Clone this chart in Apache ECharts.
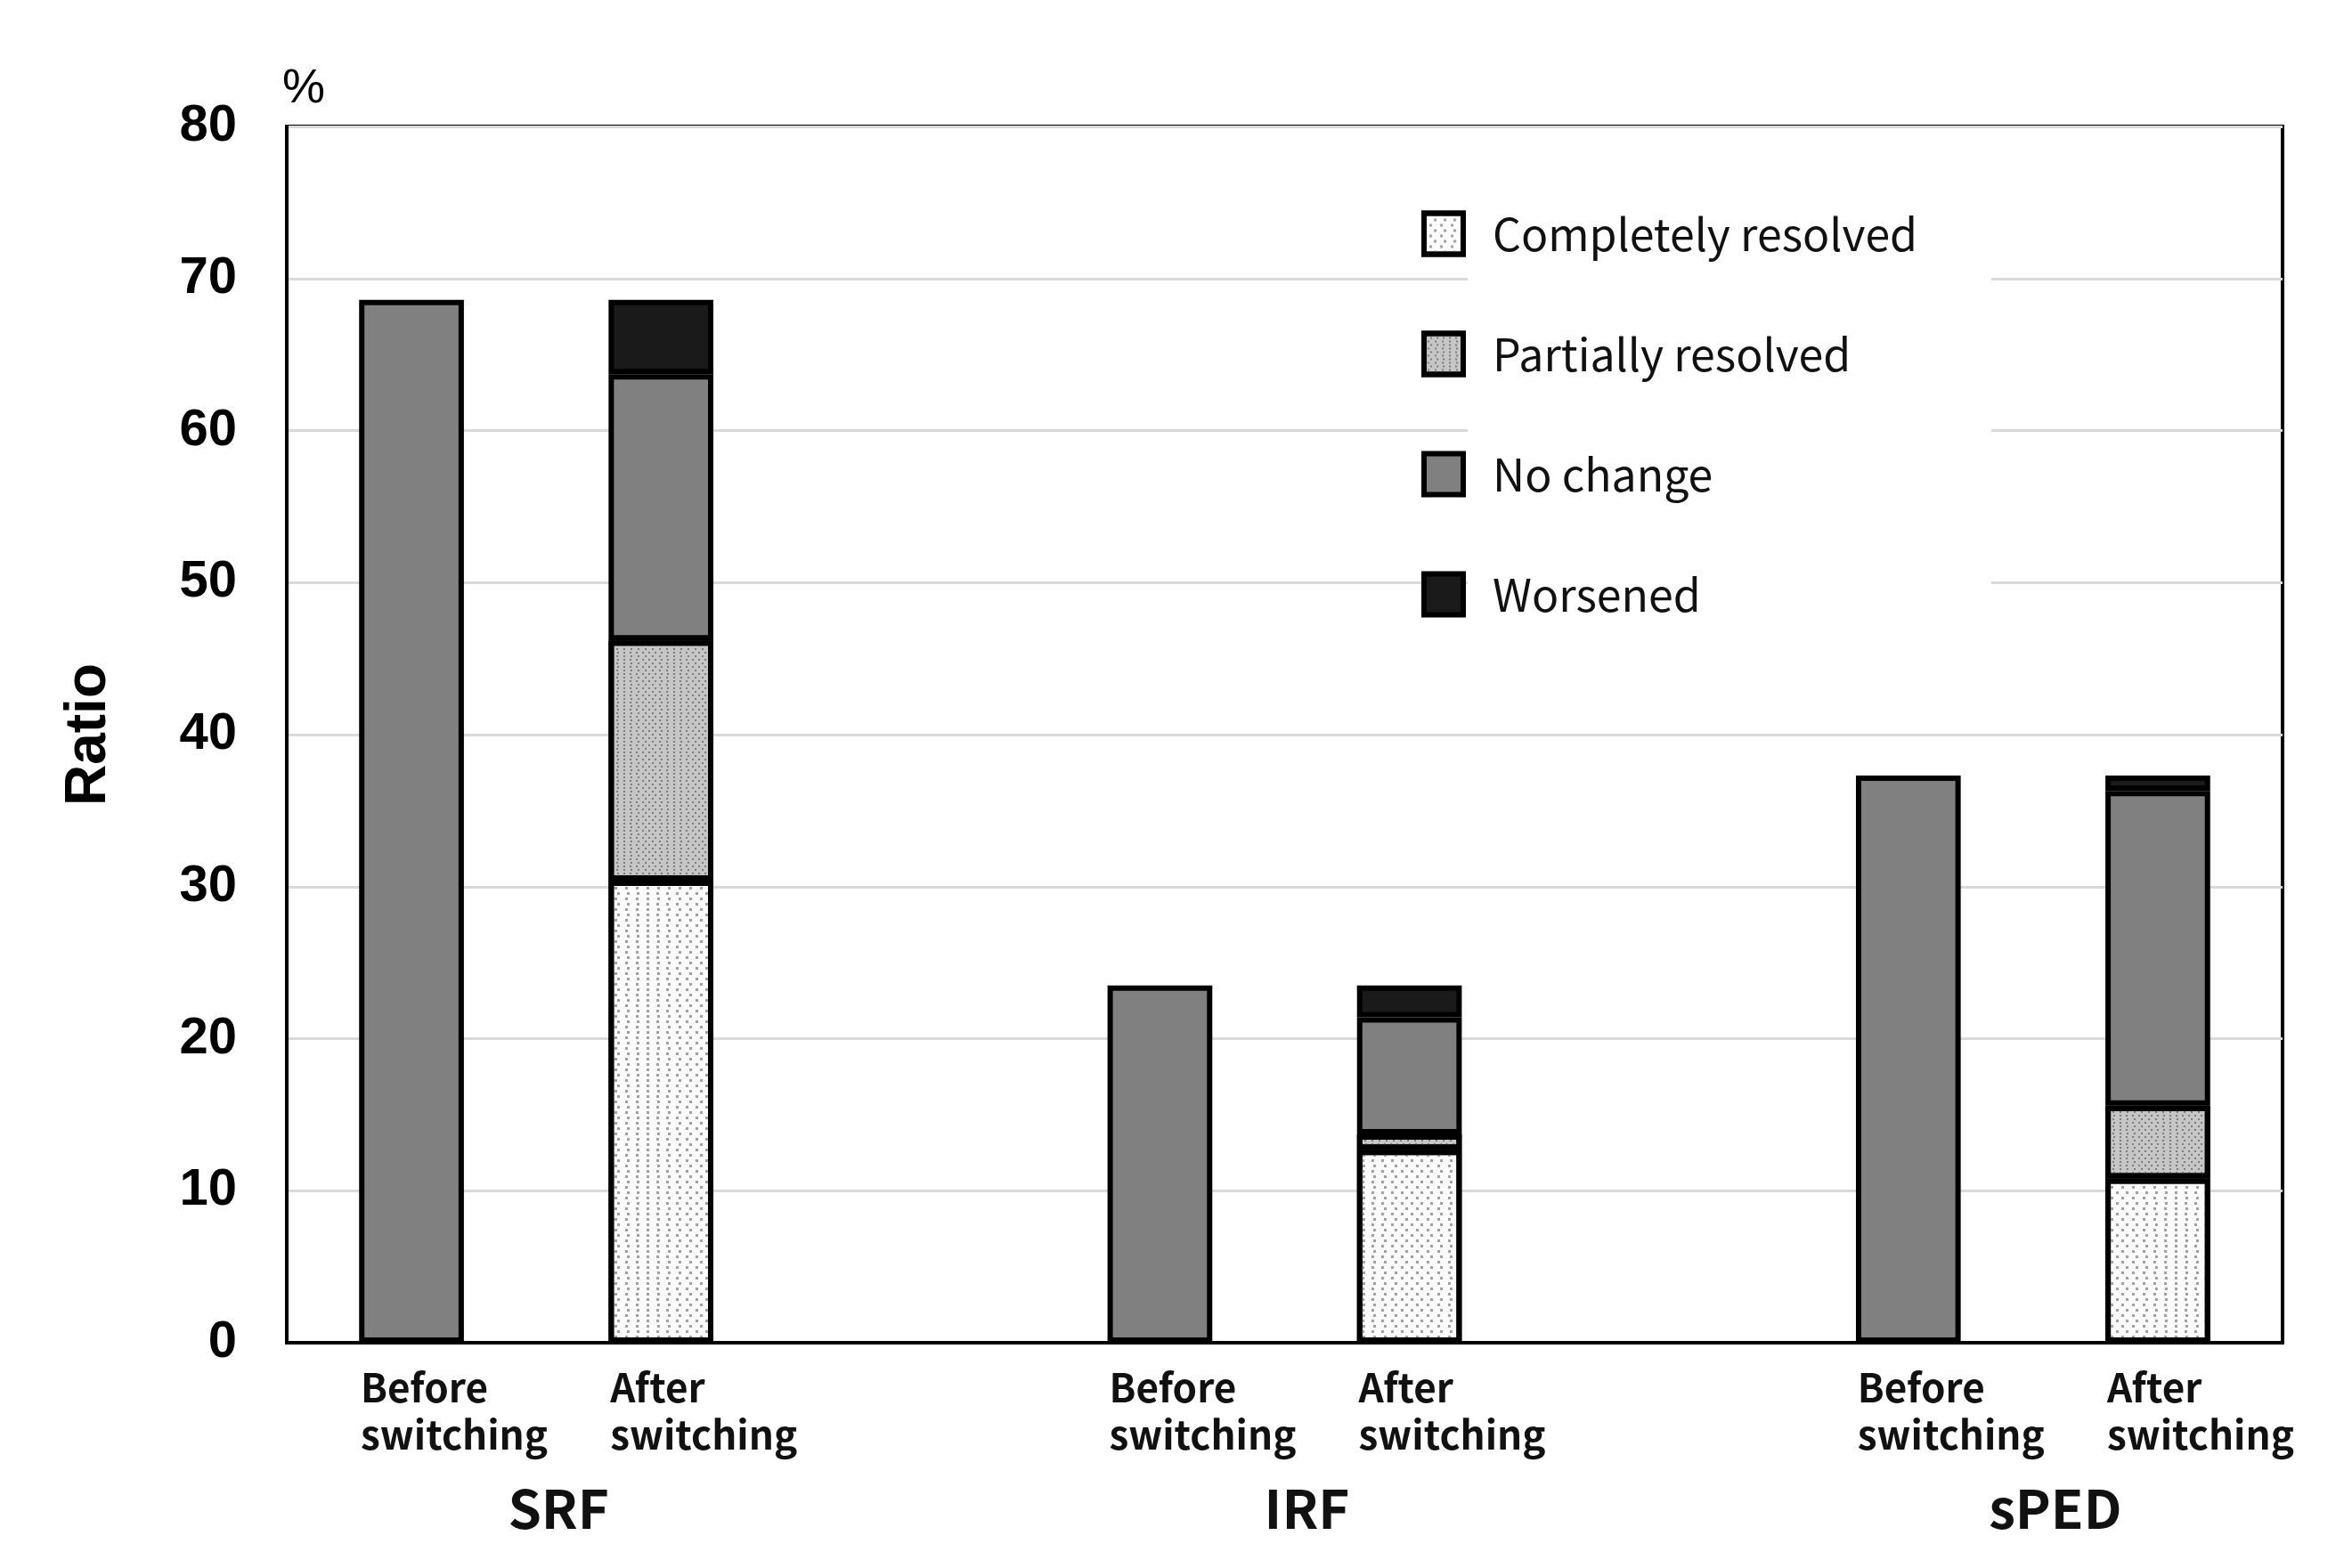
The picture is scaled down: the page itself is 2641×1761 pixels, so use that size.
<!DOCTYPE html>
<html>
<head>
<meta charset="utf-8">
<script src="https://cdn.jsdelivr.net/npm/echarts@6/dist/echarts.min.js"></script>
<style>
  html, body { margin: 0; padding: 0; background: #fff; }
  #chart { width: 2641px; height: 1761px; }
</style>
</head>
<body>
<div id="chart"></div>
<script>

var groups = ['SRF', 'IRF', 'sPED'];
var phases = ['Before\nswitching', 'After\nswitching'];
var segNames = ['Completely resolved', 'Partially resolved', 'No change', 'Worsened'];

// before switching: everything is "no change"
var beforeNoChange = [68.6, 23.5, 37.3];
// after switching, stacked bottom to top
var afterComplete = [30.4, 12.7, 10.8];
var afterPartial = [15.8, 1.0, 4.8];
var afterNoChange = [17.5, 7.7, 20.7];
var afterWorsened = [4.9, 2.1, 1.0];

var yTicks = { min: 0, max: 80, interval: 10 };

// categories: before, after, spacer, before, after, spacer, ...
var categories = [];
groups.forEach(function (g, i) {
	categories.push(g + '|0', g + '|1');
	if (i < groups.length - 1) categories.push('gap' + i);
});

function build(beforeVals, afterVals) {
	var out = [];
	groups.forEach(function (g, i) {
		out.push(beforeVals ? beforeVals[i] : null);
		out.push(afterVals ? afterVals[i] : null);
		if (i < groups.length - 1) out.push(null);
	});
	return out;
}

var labelFont = 'Noto Sans CJK JP';

var decalComplete = {
	symbol: 'rect', symbolSize: 1, color: '#a0a0a0',
	dashArrayX: [[3, 8], [0, 5.5, 3, 2.5]], dashArrayY: [3, 2.5]
};
var decalPartial = {
	symbol: 'rect', symbolSize: 1, color: '#7c7c7c',
	dashArrayX: [[2, 5], [0, 3.5, 2, 1.5]], dashArrayY: [2, 1.5]
};

function seg(name, data, color, decal) {
	var s = {
		name: name,
		type: 'bar',
		stack: 'total',
		barWidth: '42%',
		data: data,
		itemStyle: { color: color, borderColor: '#000', borderWidth: 6 }
	};
	if (decal) s.itemStyle.decal = decal;
	return s;
}

var myChart = echarts.init(document.getElementById('chart'));

var option = {
	backgroundColor: '#fff',
	animation: false,
	title: {
		text: '%',
		left: 312,
		top: 68,
		textStyle: { fontSize: 54, fontWeight: 'normal', fontFamily: 'Liberation Sans', color: '#000' }
	},
	grid: {
		left: 322, right: 78, top: 142, bottom: 253,
		show: true, borderColor: '#000', borderWidth: 4
	},
	legend: {
		orient: 'vertical',
		left: 1591,
		top: 190,
		itemWidth: 44,
		itemHeight: 46,
		itemGap: 0,
		icon: 'rect',
		selectedMode: false,
		itemStyle: { borderColor: '#000', borderWidth: 6 },
		textStyle: {
			fontSize: 50, fontFamily: labelFont, color: '#111',
			backgroundColor: '#fff', width: 560, lineHeight: 135,
			padding: [0, 0, 0, 28]
		},
		data: segNames
	},
	xAxis: {
		type: 'category',
		data: categories,
		axisTick: { show: false },
		axisLine: { lineStyle: { color: '#000', width: 4 } },
		axisLabel: {
			interval: 0,
			margin: 24,
			formatter: function (v) {
				var parts = v.split('|');
				if (parts.length < 2) return '';
				return phases[+parts[1]].split('\n').map(function (t) {
					return '{t|' + t + '}';
				}).join('\n');
			},
			rich: {
				t: {
					width: 114, align: 'left', fontSize: 44, lineHeight: 53,
					fontFamily: labelFont, fontWeight: 'bold', color: '#111'
				}
			}
		}
	},
	yAxis: {
		type: 'value',
		min: yTicks.min,
		max: yTicks.max,
		interval: yTicks.interval,
		name: 'Ratio',
		nameLocation: 'middle',
		nameGap: 190,
		nameTextStyle: { fontSize: 64, fontWeight: 'bold', fontFamily: 'Liberation Sans', color: '#000' },
		axisLine: { show: true, lineStyle: { color: '#000', width: 4 } },
		axisTick: { show: false },
		axisLabel: {
			fontSize: 58, fontWeight: 'bold', fontFamily: 'Liberation Sans', color: '#000',
			margin: 56, padding: [8, 0, 0, 0]
		},
		splitLine: { lineStyle: { color: '#d9d9d9', width: 3 } }
	},
	series: [
		seg(segNames[0], build(null, afterComplete), '#fbfbfb', decalComplete),
		seg(segNames[1], build(null, afterPartial), '#c6c6c6', decalPartial),
		seg(segNames[2], build(beforeNoChange, afterNoChange), '#808080'),
		seg(segNames[3], build(null, afterWorsened), '#1a1a1a')
	]
};

myChart.setOption(option);

// group names centred under each pair of bars
var baseY = myChart.convertToPixel({ yAxisIndex: 0 }, 0);
var texts = groups.map(function (g, i) {
	var a = myChart.convertToPixel({ xAxisIndex: 0 }, i * 3);
	var b = myChart.convertToPixel({ xAxisIndex: 0 }, i * 3 + 1);
	return {
		type: 'text',
		style: {
			text: g, x: (a + b) / 2 + 25, y: baseY + 186,
			align: 'center', verticalAlign: 'middle',
			fontSize: 60, fontWeight: 'bold', fontFamily: labelFont, fill: '#111'
		}
	};
});
myChart.setOption({ graphic: texts });

</script>
</body>
</html>
